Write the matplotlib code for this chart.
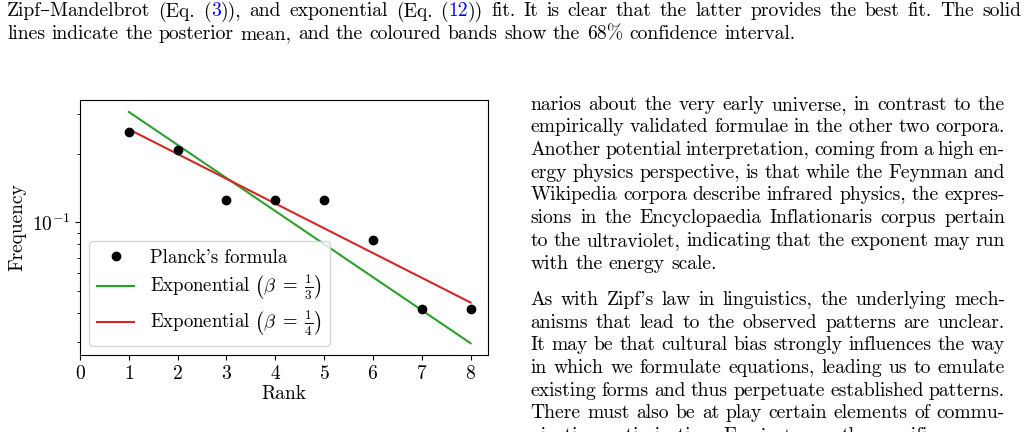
import numpy as np
import matplotlib
matplotlib.use("Agg")
import matplotlib.pyplot as plt
from matplotlib.ticker import NullFormatter

# data
ranks = [1, 2, 3, 4, 5, 6, 7, 8]
planck_freq = [0.250, 0.208, 0.125, 0.125, 0.125, 0.0833, 0.0417, 0.0417]
fit_ranks = [1, 8]
exp_third = [0.305, 0.0295]     # beta = 1/3
exp_quarter = [0.256, 0.0445]   # beta = 1/4
xticks = [0, 1, 2, 3, 4, 5, 6, 7, 8]

caption = [
    [("Zipf–Mandelbrot (Eq. (", "k"), ("3", "blue"), (")), and exponential (Eq. (", "k"), ("12", "blue"),
     (")) fit. It is clear that the latter provides the best fit. The solid", "k")],
    [("lines indicate the posterior mean, and the coloured bands show the 68% confidence interval.", "k")],
]
para1 = [
    "narios about the very early universe, in contrast to the",
    "empirically validated formulae in the other two corpora.",
    "Another potential interpretation, coming from a high en-",
    "ergy physics perspective, is that while the Feynman and",
    "Wikipedia corpora describe infrared physics, the expres-",
    "sions in the Encyclopaedia Inflationaris corpus pertain",
    "to the ultraviolet, indicating that the exponent may run",
    "with the energy scale.",
]
para2 = [
    "As with Zipf's law in linguistics, the underlying mech-",
    "anisms that lead to the observed patterns are unclear.",
    "It may be that cultural bias strongly influences the way",
    "in which we formulate equations, leading us to emulate",
    "existing forms and thus perpetuate established patterns.",
    "There must also be at play certain elements of commu-",
    "nication optimisation. For instance, the specific",
]

plt.rcParams['font.family'] = ['cmr10', 'DejaVu Serif']
plt.rcParams['mathtext.fontset'] = 'cm'
plt.rcParams['axes.formatter.use_mathtext'] = True
plt.rcParams['axes.unicode_minus'] = False
plt.rcParams['font.size'] = 14

W, H = 1028, 432
fig = plt.figure(figsize=(W / 100, H / 100), dpi=100)
ax = fig.add_axes([80 / W, 1 - 355 / H, 407.7 / W, 255 / H])

ax.plot(ranks, planck_freq, 'ko', ms=6, label="Planck's formula", zorder=3)
ax.plot(fit_ranks, exp_third, color='tab:green', lw=1.5,
        label=r'Exponential $\left(\beta \;=\; \frac{1}{3}\right)$')
ax.plot(fit_ranks, exp_quarter, color='tab:red', lw=1.5,
        label=r'Exponential $\left(\beta \;=\; \frac{1}{4}\right)$')
ax.set_yscale('log')
ax.set_xlim(0, 8.35)
ax.set_ylim(0.0262, 0.344)
ax.set_xticks(xticks)
ax.yaxis.set_minor_formatter(NullFormatter())
ax.set_xlabel('Rank', labelpad=2)
ax.set_ylabel('Frequency')
ax.legend(loc='lower left', fontsize=13.5, labelspacing=0.33, handletextpad=0.85)

# surrounding page text, justified word by word
body_size = 14.1
space = 0.333 * body_size * 100 / 72
renderer = fig.canvas.get_renderer()


def words_of(segments):
    words, cur = [], []
    for text, col in segments:
        parts = text.split(' ')
        for i, p in enumerate(parts):
            if i > 0 and cur:
                words.append(cur)
                cur = []
            if p:
                cur.append((p, col))
    if cur:
        words.append(cur)
    return words


def put_line(segments, x0, base, x1=None):
    items = []
    for w in words_of(segments):
        items.append([fig.text(0, 1 - base / H, p, color=c, fontsize=body_size, va='baseline')
                      for p, c in w])
    widths = [[t.get_window_extent(renderer).width for t in ts] for ts in items]
    total = sum(sum(ws) for ws in widths)
    gap = space
    if x1 is not None and len(items) > 1:
        gap = (x1 - x0 - total) / (len(items) - 1)
    x = x0
    for ts, ws in zip(items, widths):
        for t, w in zip(ts, ws):
            t.set_x(x / W)
            x += w
        x += gap


put_line(caption[0], 7, 16.5, 1021)
put_line(caption[1], 7, 39.2)

lead = 22.7
for i, line in enumerate(para1):
    put_line([(line, "k")], 530.7, 109.7 + i * lead, None if i == len(para1) - 1 else 1005)
for i, line in enumerate(para2):
    put_line([(line, "k")], 530.7, 305 + i * lead, None if i == len(para2) - 1 else 1005)

fig.savefig('out.png', dpi=100)
